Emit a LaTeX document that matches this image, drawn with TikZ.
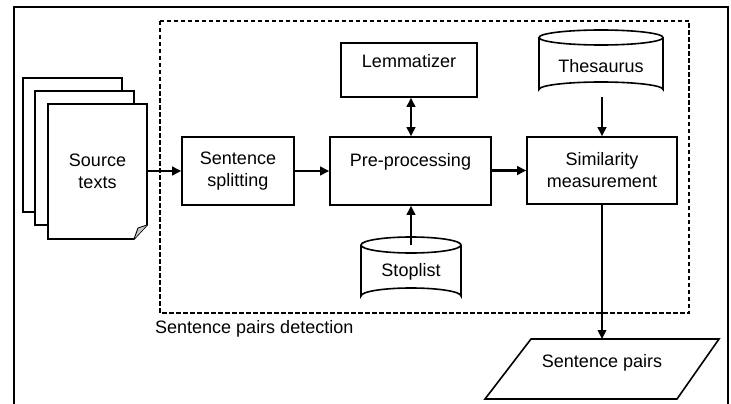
\documentclass[tikz,border=0pt]{standalone}
\usepackage{fontspec}
\setmainfont{Liberation Sans}
\usetikzlibrary{arrows.meta}
\begin{document}
\begin{tikzpicture}[x=1pt,y=-1pt,
  every node/.style={font=\fontsize{18}{22}\selectfont},
  box/.style={draw,line width=1.6pt,inner sep=0pt,align=center},
  arr/.style={line width=2.2pt,-{Triangle[length=9pt,width=8.5pt]}},
  darr/.style={line width=2.2pt,{Triangle[length=9pt,width=8.5pt]}-{Triangle[length=9pt,width=8.5pt]}},
  shp/.style={line width=1.6pt,line join=miter}]
\useasboundingbox (0,0) rectangle (731,404);
% outer frame
\draw[line width=1.2pt] (14,404) -- (14,7) -- (728,7) -- (728,404);
% dashed group
\draw[line width=1.5pt,dash pattern=on 4.5pt off 2.5pt] (160,21) rectangle (689,313);
\node[anchor=west,inner sep=0pt] (grp) at (155,329) {Sentence pairs detection};
% documents
\draw[shp,fill=white] (23,78) rectangle (122,212);
\draw[shp,fill=white] (35,91) rectangle (134,225);
\draw[shp,fill=white] (48,104) -- (147,104) -- (147,225) -- (134,239) -- (48,239) -- cycle;
\fill[gray!45] (147,225) -- (134,239) -- (138,228) -- cycle;
\draw[line width=0.9pt] (147,225) -- (138,228) -- (134,239);
\node[inner sep=0pt,minimum width=99pt,minimum height=135pt,align=center] (src) at (97.5,171.5) {Source\\texts};
% process boxes
\node[box,minimum width=112pt,minimum height=68pt] (split) at (238,171) {Sentence\\splitting};
\node[box,minimum width=161pt,minimum height=68pt] (pre) at (410.5,171) {Pre-processing\\\mbox{}};
\node[box,minimum width=136pt,minimum height=54pt] (lem) at (409,70) {Lemmatizer\\[-4pt]\mbox{}};
\node[box,minimum width=150pt,minimum height=67pt] (sim) at (602,170.5) {Similarity\\measurement};
% Thesaurus cylinder
\draw[shp,fill=white] (539,37.5) -- (539,89.5) arc[start angle=180,end angle=360,x radius=62,y radius=7.5] -- (663,37.5);
\draw[shp] (601,37.5) ellipse[x radius=62,y radius=7.5];
\node[inner sep=0pt] (thes) at (601,66) {Thesaurus};
\coordinate (thesbot) at (602,97);
% Stoplist cylinder
\draw[shp,fill=white] (361,245) -- (361,296) arc[start angle=180,end angle=360,x radius=50,y radius=8] -- (461,245);
\draw[shp] (411,245) ellipse[x radius=50,y radius=8];
\node[inner sep=0pt] (stop) at (411,272) {Stoplist};
\coordinate (stoptop) at (411,245);
% output parallelogram
\draw[shp] (531,339) -- (719,339) -- (677,399) -- (485,399) -- cycle;
\node[inner sep=0pt] (pairs) at (602,363) {Sentence pairs};
\coordinate (pairstop) at (602,339);
% connectors
\draw[arr] (src.east |- split) -- (split.west);
\draw[arr] (split.east) -- (pre.west);
\draw[arr] (pre.east |- sim) -- (sim.west);
\draw[darr] (lem.south -| 411,0) -- (pre.north -| 411,0);
\draw[arr] (stoptop) -- (pre.south -| stoptop);
\draw[arr] (thesbot) -- (sim.north -| thesbot);
\draw[arr] (sim.south -| pairstop) -- (pairstop);
\end{tikzpicture}
\end{document}
